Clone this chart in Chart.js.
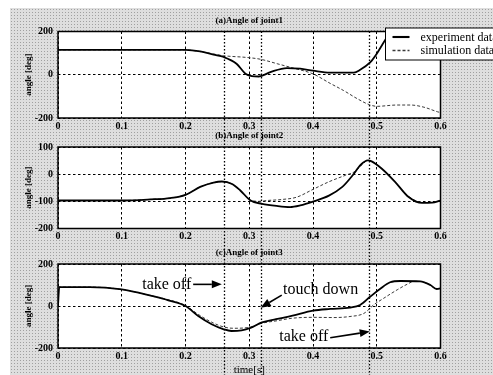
<!DOCTYPE html>
<html>
<head>
<meta charset="utf-8">
<script src="https://cdn.jsdelivr.net/npm/chart.js@4.4.0/dist/chart.umd.min.js"></script>
<style>
  html, body { margin: 0; padding: 0; background: #fff; }
  #fig { position: relative; width: 493px; height: 375px; overflow: hidden; }
  #paper {
    position: absolute; left: 10px; top: 8px; right: 0; bottom: 0;
    background-color: #dedede;
    background-image: radial-gradient(circle, #a0a0a0 0.8px, transparent 0.9px);
    background-size: 3px 3px;
  }
  canvas { position: absolute; left: 0; top: 0; }
</style>
</head>
<body>
<div id="fig">
  <div id="paper"></div>
  <canvas id="c1" width="493" height="375"></canvas>
  <canvas id="c2" width="493" height="375"></canvas>
  <canvas id="c3" width="493" height="375"></canvas>
</div>
<script>
// ---- data ----
const seriesNames = ["experiment data", "simulation data"];
const panelTitles = ["(a)Angle of joint1", "(b)Angle of joint2", "(c)Angle of joint3"];
const xTicks = [0, 0.1, 0.2, 0.3, 0.4, 0.5, 0.6];
const yTicksWide = [-200, 0, 200];
const yTicksJoint2 = [-200, -100, 0, 100];
const eventTimes = [0.26, 0.318, 0.488];

const j1ExpT = [0, 0.1, 0.2, 0.223, 0.244, 0.26, 0.28, 0.294, 0.304, 0.315, 0.333, 0.359, 0.38, 0.4, 0.427, 0.464, 0.474, 0.49, 0.5, 0.511, 0.522];
const j1ExpV = [115, 115, 115, 108, 93, 82, 51, 5, -6, -8, 12, 31, 28, 19, 10, 10, 23, 58, 97, 150, 200];
const j1SimT = [0, 0.1, 0.2, 0.223, 0.244, 0.26, 0.296, 0.317, 0.345, 0.37, 0.4, 0.427, 0.448, 0.469, 0.488, 0.5, 0.532, 0.553, 0.574, 0.595, 0.6];
const j1SimV = [115, 115, 115, 107, 96, 88, 80, 72, 50, 30, 4, -40, -73, -110, -138, -146, -140, -140, -150, -171, -175];

const j2ExpT = [0, 0.1, 0.145, 0.176, 0.2, 0.223, 0.244, 0.257, 0.273, 0.286, 0.302, 0.32, 0.343, 0.364, 0.38, 0.4, 0.425, 0.446, 0.462, 0.475, 0.486, 0.492, 0.508, 0.529, 0.55, 0.571, 0.587, 0.6];
const j2ExpV = [-97, -97, -93, -88, -76, -47, -31, -27, -36, -60, -97, -109, -117, -121, -115, -101, -79, -47, -5, 35, 51, 47, 20, -29, -84, -106, -105, -97];
const j2SimT = [0, 0.1, 0.145, 0.176, 0.2, 0.223, 0.244, 0.257, 0.273, 0.286, 0.302, 0.315, 0.328, 0.352, 0.374, 0.4, 0.425, 0.451, 0.466, 0.478, 0.486, 0.492, 0.508, 0.529, 0.55, 0.571, 0.587, 0.6];
const j2SimV = [-97, -97, -93, -88, -76, -47, -31, -27, -36, -60, -95, -100, -97, -93, -85, -56, -28, -4, 10, 37, 51, 47, 20, -29, -82, -104, -104, -97];

const j3ExpT = [0, 0.002, 0.05, 0.1, 0.131, 0.147, 0.173, 0.2, 0.22, 0.241, 0.26, 0.272, 0.288, 0.302, 0.32, 0.342, 0.368, 0.4, 0.427, 0.458, 0.474, 0.49, 0.505, 0.521, 0.537, 0.568, 0.584, 0.594, 0.6];
const j3ExpV = [0, 90, 90, 79, 60, 48, 27, 0, -48, -87, -111, -119, -116, -104, -78, -63, -46, -22, -14, -8, 5, 45, 81, 113, 119, 117, 100, 81, 84];
const j3SimT = [0, 0.05, 0.1, 0.147, 0.2, 0.22, 0.241, 0.26, 0.275, 0.29, 0.302, 0.32, 0.342, 0.368, 0.4, 0.432, 0.458, 0.48, 0.495, 0.511, 0.532, 0.548, 0.558, 0.568, 0.584, 0.594, 0.6];
const j3SimV = [90, 90, 79, 48, 2, -40, -77, -100, -106, -105, -100, -82, -71, -58, -54, -55, -50, -35, 5, 37, 77, 104, 117, 117, 100, 81, 84];

// labels on panel (c), anchored in data units
const notes = [
  { text: "take off",   at: [0.209, 103],  align: "right", tail: [0.212, 103], head: [0.257, 103] },
  { text: "touch down", at: [0.353, 79],   align: "left",  tail: [0.351, 52],  head: [0.318, -8] },
  { text: "take off",   at: [0.424, -146], align: "right", tail: [0.427, -151], head: [0.489, -122] }
];

const SERIF = '"Liberation Serif", "Times New Roman", serif';
Chart.defaults.font.family = SERIF;
Chart.defaults.color = "#000";

function toPts(t, v) {
  return t.map((x, i) => ({ x: x, y: v[i] }));
}

function pair(expT, expV, simT, simV) {
  return [
    { label: seriesNames[0], data: toPts(expT, expV), borderColor: "#000", borderWidth: 1.8 },
    { label: seriesNames[1], data: toPts(simT, simV), borderColor: "#3a3a3a", borderWidth: 1, borderDash: [3, 2] }
  ];
}

function arrow(ctx, x1, y1, x2, y2) {
  const a = Math.atan2(y2 - y1, x2 - x1);
  const len = 10, hw = 4;
  const bx = x2 - len * Math.cos(a), by = y2 - len * Math.sin(a);
  ctx.beginPath();
  ctx.moveTo(x1, y1);
  ctx.lineTo(bx, by);
  ctx.stroke();
  ctx.beginPath();
  ctx.moveTo(x2, y2);
  ctx.lineTo(bx - hw * Math.sin(a), by + hw * Math.cos(a));
  ctx.lineTo(bx + hw * Math.sin(a), by - hw * Math.cos(a));
  ctx.closePath();
  ctx.fill();
}

function framePlugin(idx) {
  return {
    id: "frame" + idx,
    beforeDraw(chart) {
      const a = chart.chartArea, ctx = chart.ctx;
      ctx.save();
      ctx.fillStyle = "#fff";
      ctx.fillRect(a.left, a.top, a.right - a.left, a.bottom - a.top);
      ctx.restore();
    },
    afterDraw(chart) {
      const a = chart.chartArea, ctx = chart.ctx;
      ctx.save();
      ctx.strokeStyle = "#000";
      ctx.lineWidth = 1.5;
      ctx.strokeRect(a.left, a.top, a.right - a.left, a.bottom - a.top);
      ctx.fillStyle = "#000";
      ctx.font = "bold 9px " + SERIF;
      ctx.textAlign = "center";
      ctx.textBaseline = "middle";
      ctx.fillText(panelTitles[idx], (a.left + a.right) / 2, a.top - 11);
      ctx.restore();
    }
  };
}

const legendPlugin = {
  id: "boxLegend",
  afterDraw(chart) {
    const a = chart.chartArea, ctx = chart.ctx;
    const x0 = a.right - 55, y0 = a.top - 3.5;
    ctx.save();
    ctx.fillStyle = "#fff";
    ctx.strokeStyle = "#000";
    ctx.lineWidth = 1;
    ctx.fillRect(x0, y0, chart.width - x0 + 5, 32);
    ctx.strokeRect(x0, y0, chart.width - x0 + 5, 32);
    ctx.font = "12px " + SERIF;
    ctx.textBaseline = "middle";
    chart.data.datasets.forEach((ds, i) => {
      const y = y0 + 9 + i * 13.5;
      ctx.strokeStyle = ds.borderColor;
      ctx.lineWidth = ds.borderWidth + 0.3;
      ctx.setLineDash(ds.borderDash || []);
      ctx.beginPath();
      ctx.moveTo(x0 + 7, y);
      ctx.lineTo(x0 + 24, y);
      ctx.stroke();
      ctx.setLineDash([]);
      ctx.fillStyle = "#000";
      ctx.fillText(ds.label, x0 + 35, y + 0.5);
    });
    ctx.restore();
  }
};

function makeChart(id, idx, datasets, yMin, yMax, yTicks, padTop, padBottom, xH, xTitle, extra) {
  return new Chart(document.getElementById(id), {
    type: "line",
    data: { datasets: datasets },
    options: {
      responsive: false,
      animation: false,
      events: [],
      layout: { padding: { left: 20, right: 52.5, top: padTop, bottom: padBottom } },
      plugins: { legend: { display: false }, tooltip: { enabled: false } },
      elements: { point: { radius: 0 }, line: { cubicInterpolationMode: "monotone" } },
      scales: {
        x: {
          type: "linear", min: 0, max: 0.6,
          afterBuildTicks: s => { s.ticks = xTicks.map(v => ({ value: v })); },
          afterFit: s => { s.height = xH; },
          grid: { color: "#000", lineWidth: 1, drawTicks: false },
          border: { display: false, dash: [2.5, 2.5] },
          ticks: { padding: 2, autoSkip: false, maxRotation: 0, font: { size: 10, weight: "bold" },
                   callback: v => String(+v.toFixed(1)) },
          title: { display: !!xTitle, text: xTitle || "", padding: 0, font: { size: 11, lineHeight: 0.9 } }
        },
        y: {
          min: yMin, max: yMax,
          afterBuildTicks: s => { s.ticks = yTicks.map(v => ({ value: v })); },
          afterFit: s => { s.width = 38; },
          grid: { color: "#000", lineWidth: 1, drawTicks: false },
          border: { display: false, dash: [2.5, 2.5] },
          ticks: { padding: 5, autoSkip: false, font: { size: 10, weight: "bold" } },
          title: { display: true, text: "angle [deg]", padding: { top: 3, bottom: 0 }, font: { size: 9, weight: "bold" } }
        }
      }
    },
    plugins: [framePlugin(idx)].concat(extra || [])
  });
}

const chart1 = makeChart("c1", 0, pair(j1ExpT, j1ExpV, j1SimT, j1SimV), -200, 200, yTicksWide, 31.5, 241, 16, null, [legendPlugin]);
const chart2 = makeChart("c2", 1, pair(j2ExpT, j2ExpV, j2SimT, j2SimV), -200, 100, yTicksJoint2, 147, 130.5, 16, null);

const eventsAndNotes = {
  id: "eventsAndNotes",
  afterDraw(chart) {
    const ctx = chart.ctx, xs = chart.scales.x, ys = chart.scales.y;
    ctx.save();
    // dotted event lines through all three panels
    ctx.strokeStyle = "#000";
    ctx.lineWidth = 1.3;
    ctx.setLineDash([1.5, 2]);
    eventTimes.forEach(t => {
      const px = Math.round(xs.getPixelForValue(t)) + 0.5;
      ctx.beginPath();
      ctx.moveTo(px, chart1.chartArea.top);
      ctx.lineTo(px, chart.height);
      ctx.stroke();
    });
    ctx.setLineDash([]);
    // text and arrows
    ctx.fillStyle = "#000";
    ctx.lineWidth = 1.6;
    ctx.font = "16px " + SERIF;
    ctx.textBaseline = "middle";
    notes.forEach(n => {
      ctx.textAlign = n.align;
      ctx.fillText(n.text, xs.getPixelForValue(n.at[0]), ys.getPixelForValue(n.at[1]));
      arrow(ctx, xs.getPixelForValue(n.tail[0]), ys.getPixelForValue(n.tail[1]),
                 xs.getPixelForValue(n.head[0]), ys.getPixelForValue(n.head[1]));
    });
    ctx.restore();
  }
};

const chart3 = makeChart("c3", 2, pair(j3ExpT, j3ExpV, j3SimT, j3SimV), -200, 200, yTicksWide, 264, 0, 27, "time[s]", [eventsAndNotes]);
</script>
</body>
</html>
